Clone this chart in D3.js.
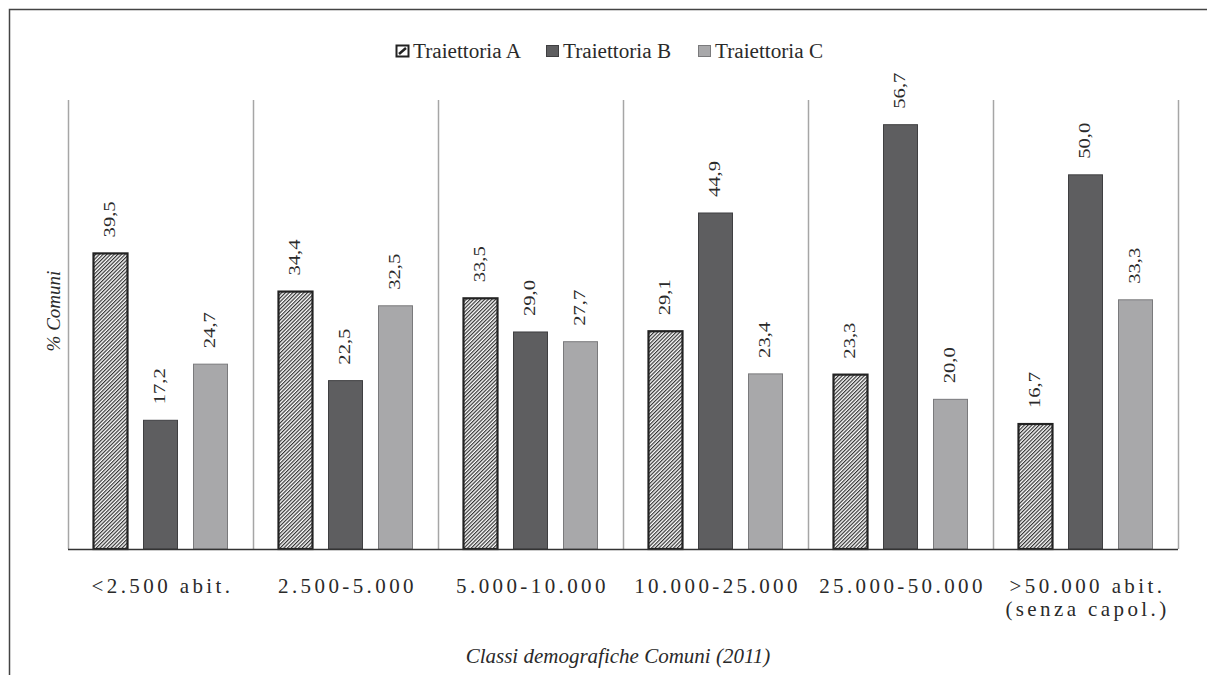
<!DOCTYPE html>
<html><head><meta charset="utf-8">
<script src="https://cdn.jsdelivr.net/npm/d3@7"></script>
<style>body{margin:0;background:#fff}svg{display:block}</style>
</head><body>
<script>
const categories = ["<2.500 abit.", "2.500-5.000", "5.000-10.000", "10.000-25.000", "25.000-50.000", ">50.000 abit.|(senza capol.)"];
const seriesNames = ["Traiettoria A", "Traiettoria B", "Traiettoria C"];
const trajA = [39.5, 34.4, 33.5, 29.1, 23.3, 16.7];
const trajB = [17.2, 22.5, 29.0, 44.9, 56.7, 50.0];
const trajC = [24.7, 32.5, 27.7, 23.4, 20.0, 33.3];
const yDomain = [0, 60];

(function () {
const FONT = "Liberation Serif";
const INK = "#2a2a2a";
const W = 1207, H = 675;
const svg = d3.select("body").append("svg").attr("width", W).attr("height", H);
const defs = svg.append("defs");
const pat = defs.append("pattern").attr("id", "hatch").attr("patternUnits", "userSpaceOnUse")
  .attr("width", 2.6).attr("height", 2.6).attr("patternTransform", "rotate(45)");
pat.append("rect").attr("width", 2.6).attr("height", 2.6).attr("fill", "#fff");
pat.append("line").attr("x1", 0.6).attr("y1", 0).attr("x2", 0.6).attr("y2", 2.6).attr("stroke", "#333").attr("stroke-width", 1.2);

// outer frame (top and left visible)
svg.append("path").attr("d", `M9.5,${H} L9.5,9.5 L${W},9.5`).attr("fill", "none").attr("stroke", "#444").attr("stroke-width", 1.5);

const pL = 68, pR = 1178, pT = 100, pB = 549;
const x0 = d3.scaleBand().domain(categories).range([pL, pR]).paddingInner(0).paddingOuter(0);
const x1 = d3.scaleBand().domain(seriesNames).range([0, x0.bandwidth()]).paddingInner(0.32).paddingOuter(0.51);
const y = d3.scaleLinear().domain(yDomain).range([pB, pT]);

// vertical separators
const seps = categories.map(c => x0(c)).concat([pR]);
svg.append("g").selectAll("line").data(seps).join("line")
  .attr("x1", d => Math.round(d) + 0.5).attr("x2", d => Math.round(d) + 0.5)
  .attr("y1", pT).attr("y2", pB).attr("stroke", "#a6a6a6").attr("stroke-width", 1.5);

const series = [
  {name: seriesNames[0], vals: trajA, fill: "url(#hatch)", stroke: "#222", sw: 2.2},
  {name: seriesNames[1], vals: trajB, fill: "#5e5e60", stroke: "#3f3f41", sw: 1},
  {name: seriesNames[2], vals: trajC, fill: "#a8a8aa", stroke: "#7a7a7c", sw: 1}
];

const fmt = v => v.toFixed(1).replace(".", ",");
series.forEach(s => {
  const g = svg.append("g");
  g.selectAll("rect").data(categories).join("rect")
    .attr("x", (c) => x0(c) + x1(s.name))
    .attr("y", (c, i) => y(s.vals[i]))
    .attr("width", x1.bandwidth())
    .attr("height", (c, i) => y(0) - y(s.vals[i]))
    .attr("fill", s.fill).attr("stroke", s.stroke).attr("stroke-width", s.sw);
  g.selectAll("text").data(categories).join("text")
    .attr("transform", (c, i) => `translate(${x0(c) + x1(s.name) + x1.bandwidth() / 2 + 4},${y(s.vals[i]) - 16}) rotate(-90)`)
    .attr("text-anchor", "start").attr("font-family", FONT).attr("font-size", 17).attr("fill", INK)
    .attr("textLength", 36).attr("lengthAdjust", "spacingAndGlyphs")
    .text((c, i) => fmt(s.vals[i]));
});

// baseline
svg.append("line").attr("x1", pL).attr("x2", pR).attr("y1", pB + 0.5).attr("y2", pB + 0.5)
  .attr("stroke", "#333").attr("stroke-width", 1.5);

// category labels
const xg = svg.append("g");
categories.forEach(c => {
  const lines = c.split("|");
  const t = xg.append("text").attr("text-anchor", "middle").attr("font-family", FONT).attr("font-size", 21).attr("fill", INK)
    .attr("letter-spacing", "3.4px");
  lines.forEach((l, k) => t.append("tspan").attr("x", x0(c) + x0.bandwidth() / 2 + 2).attr("y", 593 + k * 23).text(l));
});

// axis titles
svg.append("text").attr("x", 618).attr("y", 663).attr("text-anchor", "middle").attr("font-family", FONT).attr("font-size", 21).attr("fill", INK)
  .attr("font-style", "italic").text("Classi demografiche Comuni (2011)");
svg.append("text").attr("transform", "translate(60,311) rotate(-90)").attr("text-anchor", "middle").attr("font-family", FONT).attr("font-size", 19)
  .attr("fill", INK).attr("font-style", "italic").text("% Comuni");

// legend
const legX = [396, 546, 698];
const lg = svg.append("g");
series.forEach((s, i) => {
  const g = lg.append("g").attr("transform", `translate(${legX[i]},45)`);
  g.append("rect").attr("x", 0.5).attr("y", 0.5).attr("width", 12).attr("height", 11)
    .attr("fill", i === 0 ? "#fff" : s.fill).attr("stroke", s.stroke).attr("stroke-width", i === 0 ? 2 : 1);
  if (i === 0) {
    g.append("line").attr("x1", 3).attr("y1", 9).attr("x2", 10).attr("y2", 3).attr("stroke", "#222").attr("stroke-width", 2.5);
  }
  g.append("text").attr("x", 17).attr("y", 13).attr("font-family", FONT).attr("font-size", 20).attr("fill", INK)
    .attr("textLength", 108).attr("lengthAdjust", "spacingAndGlyphs").text(s.name);
});
})();
</script>
</body></html>
